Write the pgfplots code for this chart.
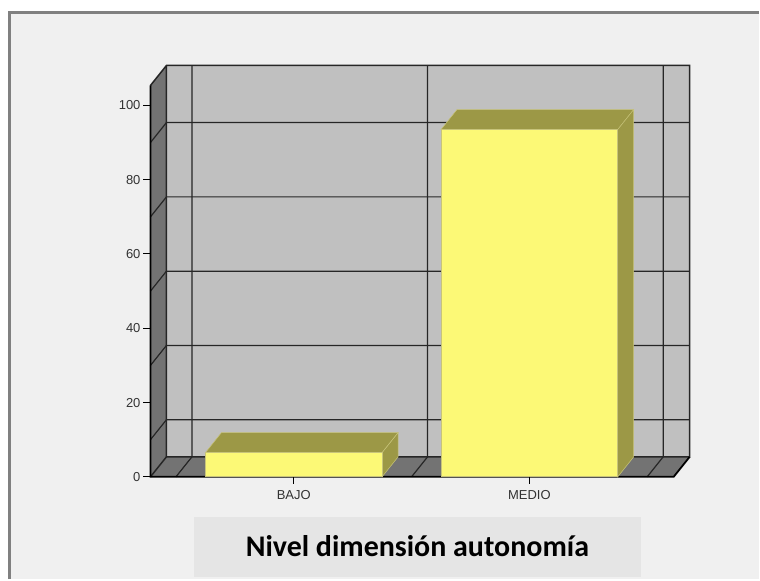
\documentclass[border=0pt]{standalone}
\usepackage{fontspec}
\setmainfont{Liberation Sans}
\newfontfamily\titlefont{Carlito}
\usepackage{pgfplots}
\pgfplotsset{compat=1.18}
\definecolor{panel}{HTML}{F0F0F0}
\definecolor{frame}{HTML}{808080}
\definecolor{wall}{HTML}{C0C0C0}
\definecolor{floorc}{HTML}{737373}
\definecolor{barfront}{HTML}{FCF976}
\definecolor{bardark}{HTML}{9C9846}
\definecolor{baredge}{HTML}{C8C47A}
\definecolor{titlebox}{HTML}{E5E5E5}
\definecolor{ticktext}{HTML}{333333}
\begin{document}
\begin{tikzpicture}[x=1pt,y=1pt]
\fill[white] (0,0) rectangle (760,580);
\fill[panel] (9,0) rectangle (760,568);
\draw[frame,line width=2.4pt] (9.5,0) -- (9.5,567.5) -- (760,567.5);
\fill[titlebox] (194.5,2.5) rectangle (642.5,62.5);
\node[font=\titlefont\bfseries\fontsize{30}{36}\selectfont,text=black] at (418,33) {Nivel dimensión autonomía};
\begin{axis}[
  at={(150.7pt,102.4pt)},anchor=south west,
  scale only axis,width=540pt,height=412pt,
  xmin=-0.6081,xmax=1.6801,ymin=0,ymax=110.75,
  clip=false,
  axis line style={draw=none},
  tick align=outside,
  xtick pos=bottom,ytick pos=left,
  major tick length=7pt,
  tick style={black,line width=1pt},
  xtick={0,1},xticklabels={BAJO,MEDIO},
  ytick={0,20,40,60,80,100},
  minor tick num=0,
  ticklabel style={font=\fontsize{13}{15}\selectfont,text=ticktext},
  /pgf/number format/assume math mode=true,
  xticklabel style={yshift=-3pt},
  yticklabel style={xshift=0.5pt},
  bar width=177pt,
]
% back wall, side wall, floor
\addplot[fill=wall,draw=none] coordinates {(-0.5403,5.376)(-0.5403,110.75)(1.6801,110.75)(1.6801,5.376)} -- cycle;
\addplot[fill=floorc,draw=none] coordinates {(-0.6081,0)(-0.6081,105.38)(-0.5403,110.75)(-0.5403,5.376)} -- cycle;
\addplot[fill=floorc,draw=none] coordinates {(-0.6081,0)(-0.5403,5.376)(1.6801,5.376)(1.6123,0)} -- cycle;
% horizontal grid on the back wall
\addplot[black!85,line width=1.2pt] coordinates {(-0.6081,10)(-0.5403,15.376)(1.6801,15.376)};
\addplot[black!85,line width=1.2pt] coordinates {(-0.6081,30)(-0.5403,35.376)(1.6801,35.376)};
\addplot[black!85,line width=1.2pt] coordinates {(-0.6081,50)(-0.5403,55.376)(1.6801,55.376)};
\addplot[black!85,line width=1.2pt] coordinates {(-0.6081,70)(-0.5403,75.376)(1.6801,75.376)};
\addplot[black!85,line width=1.2pt] coordinates {(-0.6081,90)(-0.5403,95.376)(1.6801,95.376)};
% vertical grid on the back wall
\addplot[black!85,line width=1.2pt] coordinates {(-0.5,0)(-0.4322,5.376)(-0.4322,110.75)};
\addplot[black!85,line width=1.2pt] coordinates {(0.5,0)(0.5678,5.376)(0.5678,110.75)};
\addplot[black!85,line width=1.2pt] coordinates {(1.5,0)(1.5678,5.376)(1.5678,110.75)};
% outline of the box
\addplot[black!85,line width=1.5pt] coordinates {(-0.6081,105.38)(-0.5403,110.75)(1.6801,110.75)(1.6801,5.376)(-0.5403,5.376)(-0.5403,110.75)};
\addplot[black!85,line width=1.5pt] coordinates {(-0.6081,0)(-0.5403,5.376)};
\addplot[black,line width=1.8pt] coordinates {(-0.6081,105.38)(-0.6081,0)(1.6123,0)(1.6801,5.376)};
% bars: tops and sides
\addplot[fill=bardark,draw=baredge,line width=0.5pt] coordinates {(-0.375,6.5)(-0.3072,11.876)(0.4428,11.876)(0.375,6.5)} -- cycle;
\addplot[fill=bardark,draw=baredge,line width=0.5pt] coordinates {(0.375,0)(0.375,6.5)(0.4428,11.876)(0.4428,5.376)} -- cycle;
\addplot[fill=bardark,draw=baredge,line width=0.5pt] coordinates {(0.625,93.5)(0.6928,98.876)(1.4428,98.876)(1.375,93.5)} -- cycle;
\addplot[fill=bardark,draw=baredge,line width=0.5pt] coordinates {(1.375,0)(1.375,93.5)(1.4428,98.876)(1.4428,5.376)} -- cycle;
% bars: front faces
\addplot[ybar,bar shift=0pt,fill=barfront,draw=baredge,line width=0.8pt] coordinates {(0,6.5)(1,93.5)};
\end{axis}
\end{tikzpicture}
\end{document}
